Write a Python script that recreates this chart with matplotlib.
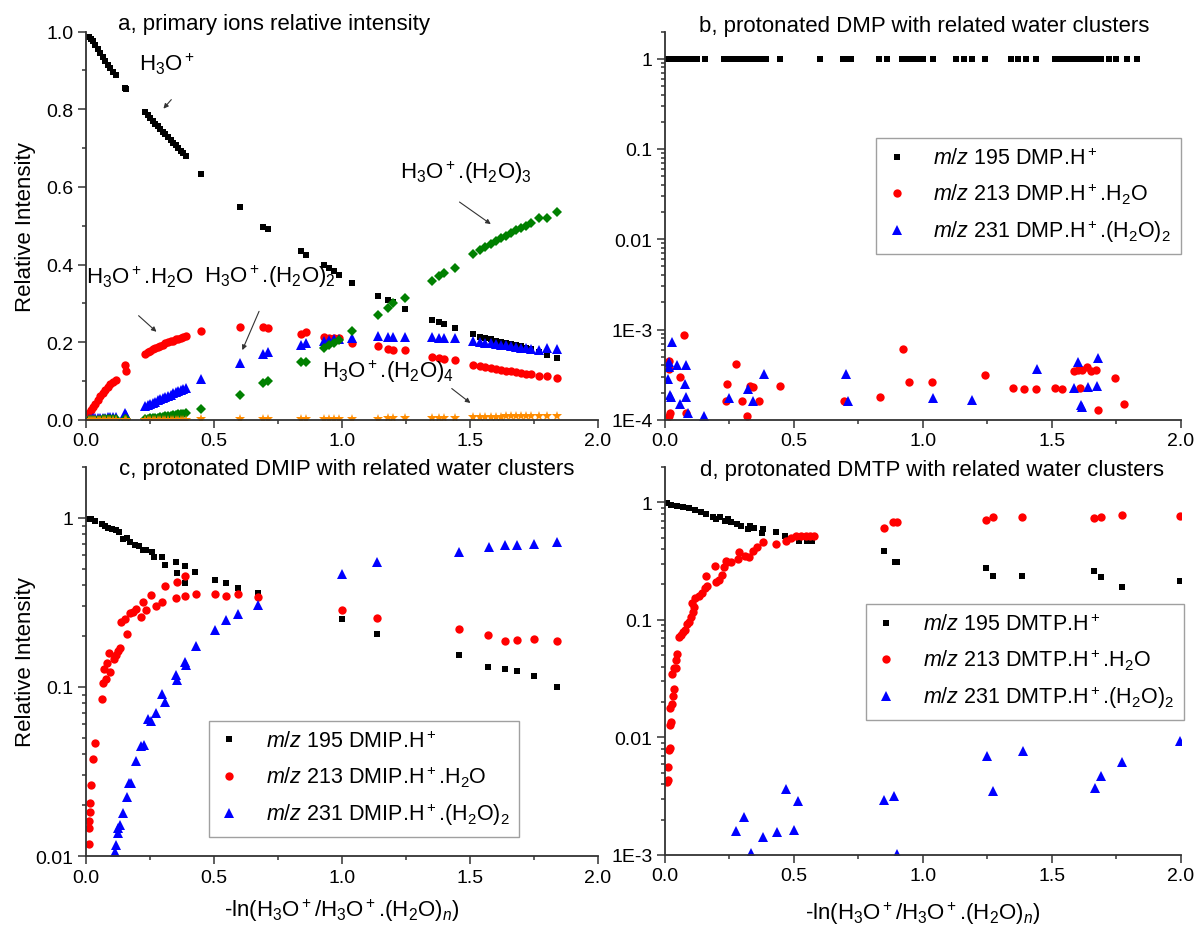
import numpy as np
import matplotlib
matplotlib.use('Agg')
import matplotlib.pyplot as plt
from matplotlib.ticker import MultipleLocator, FixedLocator, FixedFormatter, LogLocator, NullFormatter

plt.rcParams['font.family'] = ['Liberation Sans', 'DejaVu Sans']
plt.rcParams['mathtext.fontset'] = 'custom'
plt.rcParams['mathtext.rm'] = 'Liberation Sans'
plt.rcParams['mathtext.it'] = 'Liberation Sans:italic'
plt.rcParams['mathtext.bf'] = 'Liberation Sans:bold'

# ---------------- panel a : primary ions ----------------
x_a = [0.01, 0.02, 0.025, 0.035, 0.045, 0.055, 0.065, 0.075, 0.085, 0.095, 0.105, 0.115,
       0.150, 0.155,
       0.23, 0.24, 0.25, 0.26, 0.27, 0.28, 0.29, 0.30, 0.31, 0.32, 0.33, 0.34, 0.35, 0.36, 0.37, 0.38, 0.39,
       0.45, 0.60, 0.69, 0.71,
       0.84, 0.86,
       0.93, 0.95, 0.97, 0.99,
       1.04, 1.14, 1.18, 1.20, 1.245,
       1.35, 1.38, 1.40, 1.44,
       1.51, 1.54, 1.56, 1.58, 1.60, 1.62, 1.64, 1.66, 1.68, 1.70, 1.72, 1.74,
       1.77, 1.80, 1.84]
h3o = [0.985, 0.98, 0.975, 0.965, 0.955, 0.945, 0.935, 0.925, 0.915, 0.905, 0.895, 0.887,
       0.855, 0.853,
       0.792, 0.785, 0.778, 0.770, 0.763, 0.756, 0.749, 0.742, 0.735, 0.728, 0.721, 0.714, 0.707, 0.700, 0.693, 0.687, 0.680,
       0.634, 0.548, 0.497, 0.491,
       0.434, 0.425,
       0.398, 0.392, 0.382, 0.374,
       0.353, 0.318, 0.308, 0.303, 0.286,
       0.258, 0.252, 0.248, 0.236,
       0.220, 0.214, 0.210, 0.207, 0.204, 0.201, 0.198, 0.195, 0.192, 0.189, 0.186, 0.182,
       0.174, 0.167, 0.159]
h3o_w1 = [0.018, 0.025, 0.032, 0.042, 0.052, 0.062, 0.070, 0.078, 0.085, 0.092, 0.098, 0.102,
          0.140, 0.126,
          0.170, 0.174, 0.178, 0.182, 0.185, 0.188, 0.191, 0.194, 0.197, 0.200, 0.202, 0.204, 0.207, 0.209, 0.211, 0.213, 0.216,
          0.229, 0.240, 0.238, 0.236,
          0.222, 0.226,
          0.213, 0.212, 0.211, 0.210,
          0.199, 0.189, 0.183, 0.181, 0.179,
          0.163, 0.158, 0.156, 0.153,
          0.142, 0.138, 0.136, 0.134, 0.131, 0.129, 0.127, 0.125, 0.123, 0.121, 0.119, 0.117,
          0.114, 0.113, 0.108]
h3o_w2 = [0.002, 0.003, 0.004, 0.004, 0.005, 0.005, 0.006, 0.006, 0.007, 0.007, 0.008, 0.008,
          0.018, 0.012,
          0.035, 0.038, 0.041, 0.044, 0.047, 0.050, 0.053, 0.056, 0.059, 0.062, 0.065, 0.068, 0.071, 0.074, 0.077, 0.080, 0.083,
          0.104, 0.146, 0.170, 0.174,
          0.194, 0.198,
          0.203, 0.205, 0.207, 0.209,
          0.210, 0.215, 0.214, 0.213, 0.213,
          0.213, 0.211, 0.210, 0.210,
          0.202, 0.200, 0.199, 0.197, 0.196, 0.194, 0.192, 0.190, 0.188, 0.186, 0.184, 0.182,
          0.180, 0.185, 0.182]
h3o_w3 = [0.0, 0.0, 0.0, 0.0, 0.0, 0.0, 0.001, 0.001, 0.001, 0.001, 0.001, 0.001,
          0.002, 0.002,
          0.002, 0.003, 0.004, 0.004, 0.005, 0.006, 0.007, 0.008, 0.009, 0.010, 0.011, 0.012, 0.013, 0.014, 0.015, 0.016, 0.017,
          0.028, 0.063, 0.094, 0.100,
          0.148, 0.150,
          0.184, 0.192, 0.198, 0.205,
          0.230, 0.270, 0.288, 0.300, 0.315,
          0.357, 0.370, 0.378, 0.392,
          0.427, 0.438, 0.444, 0.452, 0.460, 0.467, 0.474, 0.481, 0.488, 0.494, 0.500, 0.506,
          0.519, 0.520, 0.536]
h3o_w4 = [0.0, 0.0, 0.0, 0.0, 0.0, 0.0, 0.0, 0.0, 0.0, 0.0, 0.0, 0.0,
          0.0, 0.0,
          0.0, 0.0, 0.0, 0.0, 0.0, 0.0, 0.0, 0.0, 0.0, 0.0, 0.0, 0.0, 0.0, 0.0, 0.0, 0.0, 0.0,
          0.001, 0.001, 0.002, 0.002,
          0.002, 0.002,
          0.002, 0.003, 0.003, 0.003,
          0.003, 0.003, 0.004, 0.004, 0.004,
          0.005, 0.006, 0.006, 0.006,
          0.007, 0.007, 0.008, 0.008, 0.008, 0.008, 0.009, 0.009, 0.009, 0.009, 0.010, 0.010,
          0.010, 0.011, 0.011]

# ---------------- panel b : DMP ----------------
x_b195 = [0.005, 0.015, 0.025, 0.035, 0.045, 0.055, 0.065, 0.075, 0.085, 0.095, 0.105, 0.115, 0.125,
          0.155, 0.23, 0.25, 0.27, 0.29, 0.31, 0.33, 0.35, 0.37, 0.39, 0.445, 0.60,
          0.69, 0.70, 0.72, 0.83, 0.86, 0.92, 0.94, 0.96, 0.98, 1.00, 1.04,
          1.13, 1.16, 1.19, 1.24, 1.34, 1.37, 1.40, 1.44,
          1.51, 1.53, 1.55, 1.57, 1.59, 1.61, 1.63, 1.65, 1.67, 1.69, 1.72, 1.75, 1.79, 1.83]
y_b195 = [1.0] * len(x_b195)
x_b213 = [0.017, 0.014, 0.057, 0.075, 0.020, 0.016, 0.080, 0.275, 0.240, 0.235, 0.300, 0.330,
          0.340, 0.365, 0.317, 0.445, 0.695, 0.833, 0.923, 0.947, 1.037, 1.242, 1.350, 1.390,
          1.440, 1.510, 1.540, 1.587, 1.600, 1.617, 1.635, 1.650, 1.670, 1.610, 1.680, 1.745, 1.780]
y_b213 = [4.5e-4, 3.7e-4, 3.0e-4, 8.7e-4, 1.2e-4, 1.1e-4, 1.2e-4, 4.2e-4, 2.5e-4, 1.6e-4, 1.6e-4, 2.4e-4,
          2.3e-4, 1.6e-4, 1.1e-4, 2.4e-4, 1.6e-4, 1.8e-4, 6.1e-4, 2.6e-4, 2.6e-4, 3.1e-4, 2.26e-4, 2.2e-4,
          2.2e-4, 2.26e-4, 2.2e-4, 3.5e-4, 3.6e-4, 3.6e-4, 3.8e-4, 3.5e-4, 3.6e-4, 2.26e-4, 1.3e-4, 2.9e-4, 1.5e-4]
x_b231 = [0.027, 0.017, 0.015, 0.047, 0.083, 0.012, 0.020, 0.025, 0.077, 0.083, 0.057, 0.090,
          0.152, 0.248, 0.320, 0.340, 0.384, 0.700, 0.710, 1.040, 1.190, 1.442, 1.600, 1.587,
          1.640, 1.673, 1.680, 1.613, 1.617]
y_b231 = [7.3e-4, 4.4e-4, 3.8e-4, 4.1e-4, 4.0e-4, 2.8e-4, 1.9e-4, 1.8e-4, 2.5e-4, 1.8e-4, 1.5e-4, 1.2e-4,
          1.1e-4, 1.75e-4, 2.2e-4, 1.6e-4, 3.2e-4, 3.2e-4, 1.6e-4, 1.75e-4, 1.65e-4, 3.7e-4, 4.4e-4, 2.26e-4,
          2.3e-4, 2.4e-4, 4.8e-4, 1.47e-4, 1.4e-4]

# ---------------- panel c : DMIP ----------------
x_c195 = [0.009, 0.02, 0.034, 0.064, 0.074, 0.086, 0.10, 0.116, 0.13, 0.143, 0.158, 0.17, 0.19,
          0.205, 0.223, 0.235, 0.257, 0.265, 0.297, 0.307, 0.35, 0.354, 0.387, 0.387, 0.426,
          0.503, 0.545, 0.592, 0.671, 0.998, 1.138, 1.458, 1.571, 1.637, 1.683, 1.75, 1.839]
y_c195 = [0.99, 0.98, 0.965, 0.92, 0.89, 0.87, 0.86, 0.85, 0.82, 0.75, 0.76, 0.72, 0.69,
          0.68, 0.65, 0.65, 0.63, 0.585, 0.585, 0.527, 0.55, 0.47, 0.412, 0.52, 0.48,
          0.43, 0.41, 0.383, 0.358, 0.252, 0.206, 0.154, 0.132, 0.128, 0.124, 0.116, 0.100]
x_c213 = [0.012, 0.012, 0.012, 0.015, 0.016, 0.021, 0.027, 0.033, 0.064, 0.067, 0.079, 0.071,
          0.083, 0.094, 0.091, 0.110, 0.116, 0.124, 0.134, 0.161, 0.138, 0.153, 0.170, 0.183,
          0.193, 0.216, 0.223, 0.235, 0.254, 0.272, 0.295, 0.307, 0.350, 0.354, 0.388, 0.387,
          0.429, 0.503, 0.548, 0.595, 0.671, 0.998, 1.138, 1.458, 1.571, 1.637, 1.683, 1.750, 1.839]
y_c213 = [0.0118, 0.0147, 0.0161, 0.0182, 0.0207, 0.0262, 0.0374, 0.0463, 0.0847, 0.106, 0.112, 0.127,
          0.138, 0.122, 0.158, 0.146, 0.154, 0.164, 0.171, 0.206, 0.243, 0.252, 0.274, 0.276,
          0.289, 0.258, 0.319, 0.286, 0.350, 0.303, 0.316, 0.397, 0.336, 0.420, 0.455, 0.347,
          0.355, 0.355, 0.347, 0.355, 0.342, 0.286, 0.256, 0.220, 0.204, 0.186, 0.190, 0.192, 0.187]
x_c231 = [0.112, 0.116, 0.124, 0.126, 0.134, 0.143, 0.161, 0.168, 0.176, 0.196, 0.216, 0.225,
          0.240, 0.254, 0.272, 0.295, 0.310, 0.350, 0.354, 0.388, 0.391, 0.429, 0.503, 0.548,
          0.595, 0.671, 0.998, 1.138, 1.458, 1.574, 1.637, 1.683, 1.750, 1.839]
y_c231 = [0.0106, 0.0116, 0.0136, 0.0147, 0.0152, 0.0180, 0.0224, 0.0269, 0.0269, 0.0366, 0.0445, 0.0453,
          0.0645, 0.0630, 0.0700, 0.0914, 0.0817, 0.1175, 0.110, 0.141, 0.134, 0.174, 0.218, 0.249,
          0.270, 0.307, 0.466, 0.546, 0.632, 0.670, 0.695, 0.692, 0.698, 0.718]

# ---------------- panel d : DMTP ----------------
x_d195 = [0.007, 0.025, 0.048, 0.07, 0.093, 0.115, 0.138, 0.16, 0.187, 0.197, 0.212, 0.232,
          0.245, 0.257, 0.28, 0.295, 0.322, 0.328, 0.347, 0.377, 0.38, 0.43, 0.467, 0.49,
          0.52, 0.55, 0.571, 0.848, 0.89, 0.90, 1.245, 1.271, 1.384, 1.663, 1.69, 1.771, 1.997]
y_d195 = [0.987, 0.955, 0.937, 0.907, 0.889, 0.86, 0.833, 0.796, 0.745, 0.722, 0.745, 0.699,
          0.722, 0.676, 0.654, 0.633, 0.593, 0.625, 0.605, 0.548, 0.593, 0.555, 0.52, 0.49,
          0.472, 0.472, 0.472, 0.388, 0.309, 0.309, 0.275, 0.235, 0.238, 0.259, 0.23, 0.189, 0.216]
x_d213 = [0.007, 0.010, 0.010, 0.015, 0.018, 0.021, 0.025, 0.021, 0.028, 0.033, 0.036, 0.028,
          0.036, 0.043, 0.043, 0.048, 0.055, 0.063, 0.070, 0.078, 0.085, 0.093, 0.100, 0.108,
          0.112, 0.103, 0.115, 0.130, 0.145, 0.157, 0.163, 0.160, 0.197, 0.209, 0.220, 0.193,
          0.227, 0.235, 0.242, 0.257, 0.284, 0.287, 0.310, 0.325, 0.340, 0.358, 0.381, 0.432,
          0.471, 0.490, 0.509, 0.527, 0.546, 0.564, 0.576, 0.848, 0.883, 0.900, 1.245, 1.271,
          1.384, 1.663, 1.690, 1.771, 1.997]
y_d213 = [0.00415, 0.00438, 0.00557, 0.00787, 0.00813, 0.0128, 0.0136, 0.0177, 0.0193, 0.0227, 0.0258, 0.0347,
          0.0393, 0.0387, 0.0459, 0.0513, 0.0711, 0.0744, 0.0784, 0.0826, 0.0923, 0.0966, 0.105, 0.116,
          0.128, 0.139, 0.153, 0.161, 0.169, 0.186, 0.195, 0.238, 0.209, 0.220, 0.241, 0.286,
          0.280, 0.319, 0.309, 0.313, 0.330, 0.376, 0.352, 0.340, 0.388, 0.414, 0.457, 0.442,
          0.472, 0.494, 0.521, 0.514, 0.521, 0.514, 0.521, 0.601, 0.676, 0.685, 0.712, 0.745,
          0.745, 0.736, 0.755, 0.785, 0.770]
x_d231 = [0.277, 0.305, 0.335, 0.380, 0.434, 0.470, 0.501, 0.516, 0.848, 0.888, 0.900,
          1.248, 1.271, 1.387, 1.666, 1.690, 1.771, 1.997]
y_d231 = [0.00161, 0.00212, 0.00104, 0.00143, 0.00158, 0.00365, 0.00163, 0.0029, 0.00294, 0.0032, 0.00101,
          0.00691, 0.00353, 0.00772, 0.00372, 0.00473, 0.00615, 0.0094]

FS_TICK = 14
FS_TITLE = 16
FS_LAB = 16
FS_LEG = 15.5
AX_COL = '#333333'

fig = plt.figure(figsize=(11.96, 9.29), dpi=100)
ax_a = fig.add_axes([0.072, 0.547, 0.428, 0.418])
ax_b = fig.add_axes([0.556, 0.547, 0.4314, 0.418])
ax_c = fig.add_axes([0.072, 0.0775, 0.428, 0.4187])
ax_d = fig.add_axes([0.556, 0.0786, 0.4314, 0.4177])


def style(ax):
    for s in ['top', 'right']:
        ax.spines[s].set_visible(False)
    for s in ['left', 'bottom']:
        ax.spines[s].set_color(AX_COL)
        ax.spines[s].set_linewidth(1.3)
    ax.set_xlim(0, 2)
    ax.xaxis.set_major_locator(MultipleLocator(0.5))
    ax.xaxis.set_minor_locator(MultipleLocator(0.25))
    ax.xaxis.set_major_formatter(lambda v, p: '%.1f' % v)
    ax.tick_params(which='both', direction='out', colors=AX_COL, labelcolor='black',
                   labelsize=FS_TICK, width=1.1)
    ax.tick_params(which='major', length=6, pad=3)
    ax.tick_params(which='minor', length=3)


def log_ticks(ax, vals, labels):
    ax.set_yscale('log')
    ax.yaxis.set_major_locator(FixedLocator(vals))
    ax.yaxis.set_major_formatter(FixedFormatter(labels))
    ax.yaxis.set_minor_locator(LogLocator(base=10, subs=np.arange(2, 10)))
    ax.yaxis.set_minor_formatter(NullFormatter())


ms = dict(ls='none', markeredgewidth=0)

# panel a
style(ax_a)
ax_a.set_ylim(0, 1.0)
ax_a.yaxis.set_major_locator(MultipleLocator(0.2))
ax_a.yaxis.set_minor_locator(MultipleLocator(0.1))
ax_a.yaxis.set_major_formatter(lambda v, p: '%.1f' % v)
ax_a.plot(x_a, h3o, marker='s', color='black', ms=5, **ms)
ax_a.plot(x_a, h3o_w1, marker='o', color='red', ms=6, **ms)
ax_a.plot(x_a, h3o_w2, marker='^', color='blue', ms=6.5, **ms)
ax_a.plot(x_a, h3o_w3, marker='D', color='green', ms=5, **ms)
ax_a.plot(x_a, h3o_w4, marker='*', color='#ff8c00', ms=7, **ms)
ax_a.set_ylabel('Relative Intensity', fontsize=FS_LAB)
ax_a.yaxis.set_label_coords(-0.098, 0.5)
ax_a.text(0.367, 1.02, 'a, primary ions relative intensity', transform=ax_a.transAxes,
          ha='center', va='center', fontsize=FS_TITLE)

arrow = dict(arrowstyle='-|>', color='#333333', lw=0.8, mutation_scale=7)
ax_a.text(0.316, 0.917, 'H$_3$O$^+$', fontsize=FS_LAB, ha='center', va='center')
ax_a.annotate('', xy=(0.295, 0.796), xytext=(0.34, 0.83), arrowprops=arrow)
ax_a.text(0.21, 0.37, 'H$_3$O$^+$.H$_2$O', fontsize=FS_LAB, ha='center', va='center')
ax_a.annotate('', xy=(0.283, 0.222), xytext=(0.197, 0.273), arrowprops=arrow)
ax_a.text(0.72, 0.37, 'H$_3$O$^+$.(H$_2$O)$_2$', fontsize=FS_LAB, ha='center', va='center')
ax_a.annotate('', xy=(0.606, 0.173), xytext=(0.68, 0.286), arrowprops=arrow)
ax_a.text(1.485, 0.64, 'H$_3$O$^+$.(H$_2$O)$_3$', fontsize=FS_LAB, ha='center', va='center')
ax_a.annotate('', xy=(1.59, 0.50), xytext=(1.45, 0.565), arrowprops=arrow)
ax_a.text(1.18, 0.126, 'H$_3$O$^+$.(H$_2$O)$_4$', fontsize=FS_LAB, ha='center', va='center')
ax_a.annotate('', xy=(1.51, 0.039), xytext=(1.42, 0.085), arrowprops=arrow)

# panel b
style(ax_b)
log_ticks(ax_b, [1e-4, 1e-3, 1e-2, 1e-1, 1], ['1E-4', '1E-3', '0.01', '0.1', '1'])
ax_b.set_ylim(1e-4, 2)
ax_b.plot(x_b195, y_b195, marker='s', color='black', ms=5, label=r'$\it{m/z}$ 195 DMP.H$^+$', **ms)
ax_b.plot(x_b213, y_b213, marker='o', color='red', ms=6, label=r'$\it{m/z}$ 213 DMP.H$^+$.H$_2$O', **ms)
ax_b.plot(x_b231, y_b231, marker='^', color='blue', ms=6.5, label=r'$\it{m/z}$ 231 DMP.H$^+$.(H$_2$O)$_2$', **ms)
ax_b.text(0.503, 1.015, 'b, protonated DMP with related water clusters', transform=ax_b.transAxes,
          ha='center', va='center', fontsize=FS_TITLE)

# panel c
style(ax_c)
log_ticks(ax_c, [1e-2, 1e-1, 1], ['0.01', '0.1', '1'])
ax_c.set_ylim(1e-2, 2)
ax_c.plot(x_c195, y_c195, marker='s', color='black', ms=5, label=r'$\it{m/z}$ 195 DMIP.H$^+$', **ms)
ax_c.plot(x_c213, y_c213, marker='o', color='red', ms=6, label=r'$\it{m/z}$ 213 DMIP.H$^+$.H$_2$O', **ms)
ax_c.plot(x_c231, y_c231, marker='^', color='blue', ms=6.5, label=r'$\it{m/z}$ 231 DMIP.H$^+$.(H$_2$O)$_2$', **ms)
ax_c.set_ylabel('Relative Intensity', fontsize=FS_LAB)
ax_c.yaxis.set_label_coords(-0.098, 0.5)
ax_c.set_xlabel('-ln(H$_3$O$^+$/H$_3$O$^+$.(H$_2$O)$_n$)', fontsize=FS_LAB, labelpad=8)
ax_c.text(0.51, 0.995, 'c, protonated DMIP with related water clusters', transform=ax_c.transAxes,
          ha='center', va='center', fontsize=FS_TITLE)

# panel d
style(ax_d)
log_ticks(ax_d, [1e-3, 1e-2, 1e-1, 1], ['1E-3', '0.01', '0.1', '1'])
ax_d.set_ylim(1e-3, 2)
ax_d.plot(x_d195, y_d195, marker='s', color='black', ms=5, label=r'$\it{m/z}$ 195 DMTP.H$^+$', **ms)
ax_d.plot(x_d213, y_d213, marker='o', color='red', ms=6, label=r'$\it{m/z}$ 213 DMTP.H$^+$.H$_2$O', **ms)
ax_d.plot(x_d231, y_d231, marker='^', color='blue', ms=6.5, label=r'$\it{m/z}$ 231 DMTP.H$^+$.(H$_2$O)$_2$', **ms)
ax_d.set_xlabel('-ln(H$_3$O$^+$/H$_3$O$^+$.(H$_2$O)$_n$)', fontsize=FS_LAB, labelpad=11)
ax_d.text(0.517, 0.993, 'd, protonated DMTP with related water clusters', transform=ax_d.transAxes,
          ha='center', va='center', fontsize=FS_TITLE)

leg_kw = dict(fontsize=FS_LEG, frameon=True, fancybox=False, edgecolor='#888888',
              handlelength=1.0, handletextpad=1.2, labelspacing=0.55, borderpad=0.45,
              borderaxespad=0.0)
for ax, anchor in [(ax_b, (1.0, 0.726)), (ax_c, (0.846, 0.348)), (ax_d, (1.005, 0.647))]:
    leg = ax.legend(loc='upper right', bbox_to_anchor=anchor, **leg_kw)
    leg.get_frame().set_linewidth(1.0)

fig.savefig('out.png', dpi=100)
